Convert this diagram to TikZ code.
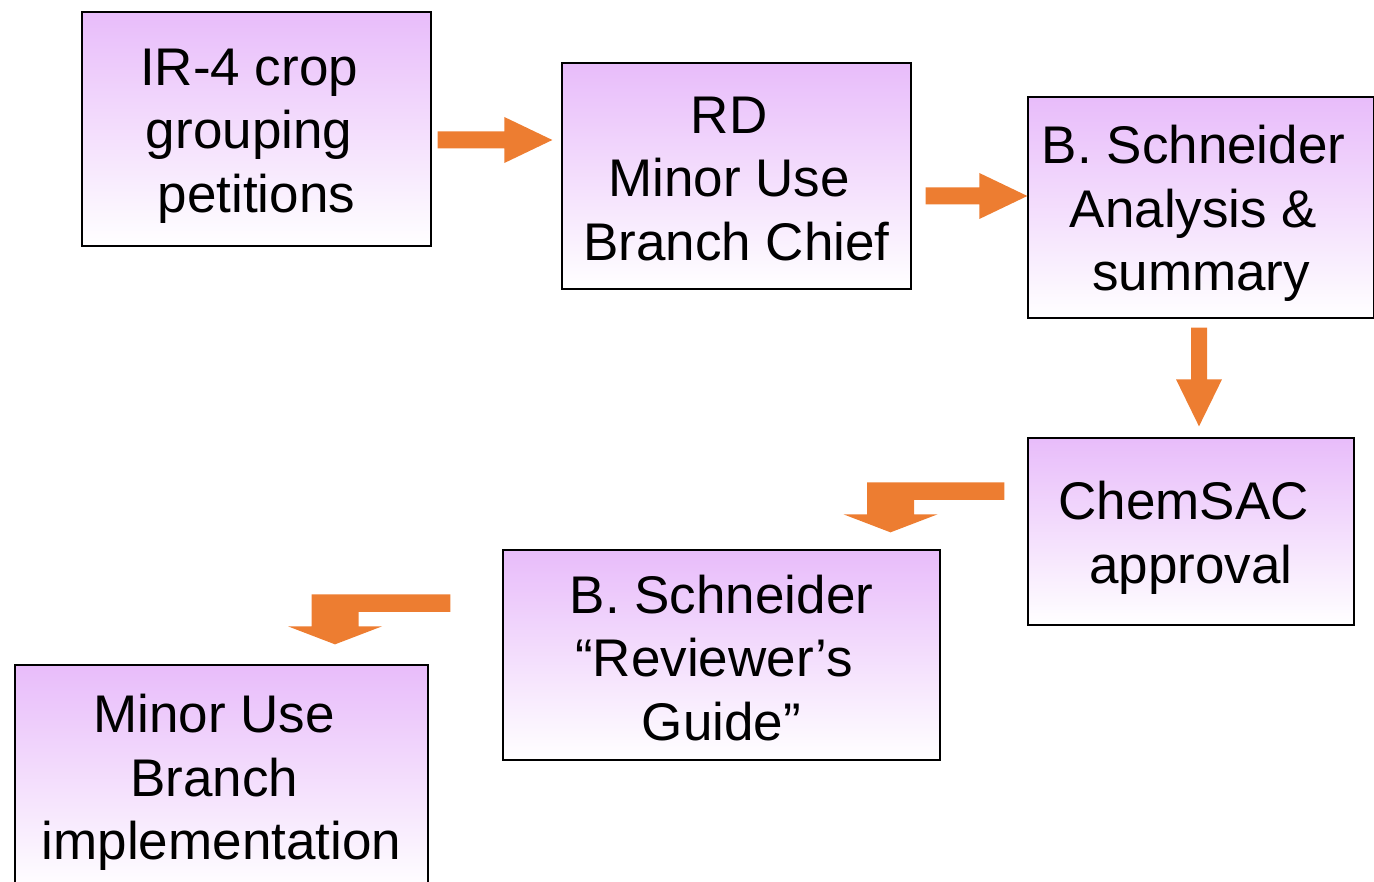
\documentclass[tikz,border=0pt]{standalone}
\usepackage{fontspec}
\setmainfont{Liberation Sans}
\usetikzlibrary{calc}
\definecolor{purp}{RGB}{232,188,250}
\definecolor{arrowc}{RGB}{237,125,49}
\newcommand\tsp{\hbox to 0.278em{}}
\newcommand\topstrut[1][51pt]{\rule{0pt}{#1}}
\newcommand\rightblockarrow[2]{%
  \fill[arrowc] ($(#1)+(0,-8.5)$) -- ($(#2)+(-48,-8.5)$) -- ($(#2)+(-48,-23)$) -- (#2)
    -- ($(#2)+(-48,23)$) -- ($(#2)+(-48,8.5)$) -- ($(#1)+(0,8.5)$) -- cycle;}
\newcommand\downblockarrow[2]{%
  \fill[arrowc] ($(#1)+(-8,0)$) -- ($(#2)+(-8,-47)$) -- ($(#2)+(-23,-47)$) -- (#2)
    -- ($(#2)+(23,-47)$) -- ($(#2)+(8,-47)$) -- ($(#1)+(8,0)$) -- cycle;}
\newcommand\bentblockarrow[2]{%
  \fill[arrowc] ($(#1 |- #2)+(0,-50)$) -- ($(#2)+(-23.5,-50)$) -- ($(#2)+(-23.5,-18)$)
    -- ($(#2)+(-47,-18)$) -- (#2) -- ($(#2)+(47,-18)$) -- ($(#2)+(23.5,-18)$)
    -- ($(#2)+(23.5,-32.5)$) -- ($(#1 |- #2)+(0,-32.5)$) -- cycle;}
\begin{document}
\begin{tikzpicture}[x=1pt,y=-1pt,
  box/.style={draw=black, line width=1.3pt, top color=purp, bottom color=white,
    align=center, inner sep=0pt, font=\fontsize{53}{63.5}\selectfont}]
\useasboundingbox (0,0) rectangle (1374,882);
\clip (0,0) rectangle (1374,882);
\node[box, minimum width=349pt, minimum height=234pt] (b1) at (256.5,129) {\topstrut IR-4 crop\tsp\\grouping\tsp\\petitions};
\node[box, minimum width=349pt, minimum height=226pt] (b2) at (736.5,176) {\topstrut[42pt]RD\tsp\\Minor Use\tsp\\Branch Chief};
\node[box, minimum width=346pt, minimum height=221pt] (b3) at (1201,207.5) {\topstrut B. Schneider\tsp\\Analysis \&\tsp\\summary};
\node[box, minimum width=326pt, minimum height=187pt] (b4) at (1191,531.5) {\topstrut ChemSAC\tsp\\approval};
\node[box, minimum width=437pt, minimum height=210pt] (b5) at (721.5,655) {\topstrut[44pt]B. Schneider\\“Reviewer’s\tsp\\Guide”};
\node[box, minimum width=413pt, minimum height=226pt] (b6) at (221.5,778) {\topstrut[47pt]Minor Use\tsp\\Branch\tsp\\implementation};
% connectors
\coordinate (a1s) at ($(b1.east)+(6,11)$);
\coordinate (a1t) at ($(b2.west)+(-9,-36)$);
\rightblockarrow{a1s}{a1t}
\coordinate (a2s) at ($(b2.east)+(14,20)$);
\coordinate (a2t) at ($(b3.west)+(0,-11.5)$);
\rightblockarrow{a2s}{a2t}
\coordinate (a3s) at ($(b3.south)+(-2,9)$);
\coordinate (a3t) at ($(b4.north)+(8,-11)$);
\downblockarrow{a3s}{a3t}
\coordinate (a4s) at ($(b4.west)+(-23,0)$);
\coordinate (a4t) at ($(b5.north)+(169,-17)$);
\bentblockarrow{a4s}{a4t}
\coordinate (a5s) at ($(b5.west)+(-52,0)$);
\coordinate (a5t) at ($(b6.north)+(113.5,-20)$);
\bentblockarrow{a5s}{a5t}
\end{tikzpicture}
\end{document}
